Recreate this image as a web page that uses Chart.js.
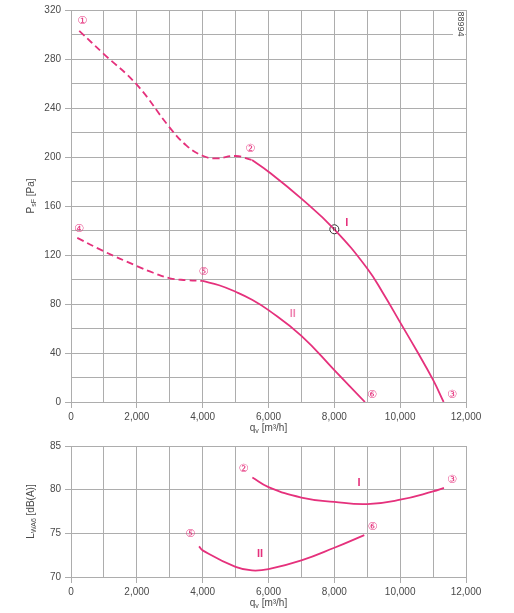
<!DOCTYPE html>
<html>
<head>
<meta charset="utf-8">
<script src="https://cdn.jsdelivr.net/npm/chart.js@4"></script>
<style>
  html, body { margin: 0; padding: 0; background: #fff; }
  #wrap { position: relative; width: 514px; height: 613px; }
  #c1 { position: absolute; left: 0; top: 0; }
  #c2 { position: absolute; left: 0; top: 436px; }
</style>
</head>
<body>
<div id="wrap">
  <canvas id="c1" width="514" height="436"></canvas>
  <canvas id="c2" width="514" height="177"></canvas>
</div>
<script>
// ---------- DATA ----------
// Pressure curve I (P_sF [Pa] vs q_v [m3/h])
const presI_dash_x = [250, 1000, 2000, 3000, 3500, 4000, 4400, 5000, 5500];
const presI_dash_y = [303, 284, 259, 224, 209.5, 201, 198.8, 200.8, 197.5];
const presI_solid_x = [5500, 6000, 7000, 8000, 9000, 9500, 10000, 10500, 11000, 11320];
const presI_solid_y = [197.5, 188, 166, 141, 109, 88, 65, 42, 18, 0];
// Pressure curve II
const presII_dash_x = [190, 1000, 2000, 2500, 3000, 3500, 4000];
const presII_dash_y = [134, 123, 111, 105.5, 101, 99.5, 98.8];
const presII_solid_x = [4000, 4500, 5000, 5500, 6000, 7000, 8000, 8930];
const presII_solid_y = [98.8, 95.3, 90, 83.5, 75, 54, 26, 0];
// Optimum point
const optPoint_x = [8000];
const optPoint_y = [141];
// Sound power curve I (L_WA6 [dB(A)])
const soundI_x = [5510, 6000, 7000, 8000, 9000, 10000, 11000, 11330];
const soundI_y = [81.4, 80.3, 79.1, 78.6, 78.35, 78.85, 79.8, 80.2];
// Sound power curve II
const soundII_x = [3890, 4000, 5000, 5500, 6000, 7000, 8000, 8910];
const soundII_y = [73.5, 73.05, 71.15, 70.75, 70.9, 71.9, 73.35, 74.8];
// Tick labels
const xTickLabels = [0, 2000, 4000, 6000, 8000, 10000, 12000];
const presTickLabels = [0, 40, 80, 120, 160, 200, 240, 280, 320];
const soundTickLabels = [70, 75, 80, 85];
// Curve annotations (text, data x, data y)
const presNotes = [
  ['①', 343, 310.5], ['②', 5440, 206.5], ['③', 11570, 5.7],
  ['④', 243, 141], ['⑤', 4020, 106], ['⑥', 9140, 5.7]
];
const presCurveNames = [['I', 8380, 146], ['II', 6740, 71.6]];
const soundNotes = [['②', 5240, 82.4], ['③', 11570, 81.1], ['⑤', 3620, 74.9], ['⑥', 9160, 75.7]];
const soundCurveNames = [['I', 8750, 80.8], ['II', 5740, 72.6]];

// ---------- STYLE ----------
const PINK = '#e5317c';
const GRID = '#adadad';
const TXT = '#4a4a4a';
const FONT = '"Liberation Sans", Arial, sans-serif';

function pts(xs, ys) { return xs.map((x, i) => ({x: x, y: ys[i]})); }

function lineDs(xs, ys, dashed) {
  return {
    type: 'line',
    data: pts(xs, ys), borderColor: PINK, borderWidth: 1.8,
    borderDash: dashed ? [7, 4] : [], pointRadius: 0,
    tension: 0.45, cubicInterpolationMode: 'default', fill: false
  };
}

function xScale(height) {
  return {
    type: 'linear', min: 0, max: 12000,
    afterBuildTicks: s => { const t = []; for (let v = 0; v <= 12000; v += 1000) t.push({value: v}); s.ticks = t; },
    afterFit: s => { s.height = height; },
    grid: {
      color: GRID, lineWidth: 1, tickLength: 6,
      tickColor: ctx => (ctx.tick && ctx.tick.value % 2000 === 0) ? GRID : 'rgba(0,0,0,0)'
    },
    border: { color: GRID },
    ticks: {
      color: TXT, font: { family: FONT, size: 10 }, padding: 3, maxRotation: 0, autoSkip: false,
      callback: v => xTickLabels.includes(v) ? v.toLocaleString('en-US') : ''
    }
  };
}

function yScale(min, max, step, labels) {
  return {
    type: 'linear', min: min, max: max,
    afterBuildTicks: s => { const t = []; for (let v = min; v <= max; v += step) t.push({value: v}); s.ticks = t; },
    afterFit: s => { s.width = 71; },
    grid: {
      color: GRID, lineWidth: 1, tickLength: 6,
      tickColor: ctx => (ctx.tick && labels.includes(ctx.tick.value)) ? GRID : 'rgba(0,0,0,0)'
    },
    border: { color: GRID },
    ticks: {
      color: TXT, font: { family: FONT, size: 10 }, padding: 4, autoSkip: false,
      callback: v => labels.includes(v) ? String(v) : ''
    }
  };
}

function notesPlugin(notes, names, yTitleMain, yTitleSub, yTitleRest, extra) {
  return {
    id: 'notes',
    afterDraw(chart) {
      const ctx = chart.ctx, xs = chart.scales.x, ys = chart.scales.y, ca = chart.chartArea;
      ctx.save();
      ctx.textAlign = 'center'; ctx.textBaseline = 'middle';
      ctx.fillStyle = PINK;
      ctx.font = '11px "DejaVu Sans", "Noto Sans CJK SC", sans-serif';
      notes.forEach(n => ctx.fillText(n[0], xs.getPixelForValue(n[1]), ys.getPixelForValue(n[2])));
      ctx.font = 'bold 11px ' + FONT;
      names.forEach((n, i) => {
        ctx.fillStyle = PINK;
        if (extra && extra.lightII && n[0] === 'II') ctx.fillStyle = 'rgba(229,49,124,0.6)';
        ctx.fillText(n[0], xs.getPixelForValue(n[1]), ys.getPixelForValue(n[2]));
      });
      // x axis title
      ctx.fillStyle = TXT;
      const tx = xs.getPixelForValue(6000), ty = ca.bottom + (extra ? extra.xTitleOffset : 26);
      drawSubText(ctx, tx, ty, 'q', 'v', ' [m³/h]', 'center');
      // y axis title (rotated)
      ctx.save();
      ctx.translate(31, (ca.top + ca.bottom) / 2 + (extra ? extra.yShift : 0));
      ctx.rotate(-Math.PI / 2);
      drawSubText(ctx, 0, 0, yTitleMain, yTitleSub, yTitleRest, 'center');
      ctx.restore();
      if (extra && extra.docId) {
        ctx.fillStyle = '#fff';
        ctx.fillRect(453, ca.top + 1, 12, 30);
        ctx.save();
        ctx.translate(460, ca.top + 14);
        ctx.rotate(Math.PI / 2);
        ctx.fillStyle = TXT;
        ctx.font = '9px ' + FONT;
        ctx.textAlign = 'center'; ctx.textBaseline = 'middle';
        ctx.fillText(extra.docId, 0, 0);
        ctx.restore();
      }
      ctx.restore();
    }
  };
}

function drawSubText(ctx, cx, cy, main, sub, rest, align) {
  ctx.textBaseline = 'middle';
  ctx.textAlign = 'left';
  const fMain = '10px ' + FONT, fSub = '7px ' + FONT;
  ctx.font = fMain; const w1 = ctx.measureText(main).width;
  ctx.font = fSub; const w2 = ctx.measureText(sub).width;
  ctx.font = fMain; const w3 = ctx.measureText(rest).width;
  let x = cx - (w1 + w2 + w3) / 2;
  ctx.font = fMain; ctx.fillText(main, x, cy); x += w1;
  ctx.font = fSub; ctx.fillText(sub, x, cy + 3); x += w2;
  ctx.font = fMain; ctx.fillText(rest, x, cy);
}

// Optimum marker plugin (circled n)
const optPlugin = {
  id: 'opt',
  afterDatasetsDraw(chart) {
    const ctx = chart.ctx, xs = chart.scales.x, ys = chart.scales.y;
    ctx.save();
    optPoint_x.forEach((v, i) => {
      const px = xs.getPixelForValue(v), py = ys.getPixelForValue(optPoint_y[i]);
      ctx.fillStyle = '#333';
      ctx.font = '7px ' + FONT;
      ctx.textAlign = 'center'; ctx.textBaseline = 'middle';
      ctx.fillText('n', px, py - 0.5);
    });
    ctx.restore();
  }
};

// ---------- CHART 1 ----------
new Chart(document.getElementById('c1'), {
  type: 'line',
  data: {
    datasets: [
      lineDs(presI_dash_x, presI_dash_y, true),
      lineDs(presI_solid_x, presI_solid_y, false),
      lineDs(presII_dash_x, presII_dash_y, true),
      lineDs(presII_solid_x, presII_solid_y, false),
      { type: 'scatter', data: pts(optPoint_x, optPoint_y), pointRadius: 4.5, pointBackgroundColor: '#fff',
        pointBorderColor: '#333', pointBorderWidth: 1, showLine: false }
    ]
  },
  options: {
    responsive: false, animation: false, devicePixelRatio: 1,
    layout: { padding: { left: 0, right: 48, top: 9, bottom: 0 } },
    plugins: { legend: { display: false }, tooltip: { enabled: false } },
    scales: { x: xScale(34), y: yScale(0, 320, 20, presTickLabels) }
  },
  plugins: [notesPlugin(presNotes, presCurveNames, 'P', 'sF', ' [Pa]',
    { xTitleOffset: 26, yShift: -10, lightII: true, docId: '88994' }), optPlugin]
});

// ---------- CHART 2 ----------
new Chart(document.getElementById('c2'), {
  type: 'line',
  data: {
    datasets: [
      lineDs(soundI_x, soundI_y, false),
      lineDs(soundII_x, soundII_y, false)
    ]
  },
  options: {
    responsive: false, animation: false, devicePixelRatio: 1,
    layout: { padding: { left: 0, right: 48, top: 10, bottom: 0 } },
    plugins: { legend: { display: false }, tooltip: { enabled: false } },
    scales: { x: xScale(36), y: yScale(70, 85, 5, soundTickLabels) }
  },
  plugins: [notesPlugin(soundNotes, soundCurveNames, 'L', 'WA6', ' [dB(A)]',
    { xTitleOffset: 26, yShift: 0, lightII: false })]
});
</script>
</body>
</html>
